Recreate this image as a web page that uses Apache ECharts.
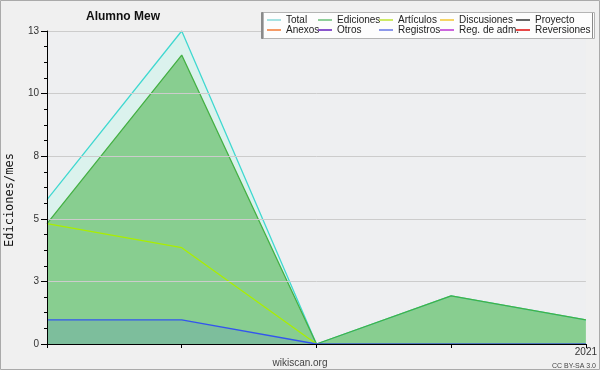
<!DOCTYPE html>
<html><head><meta charset="utf-8">
<script src="https://cdn.jsdelivr.net/npm/echarts@6/dist/echarts.min.js"></script>
<style>html,body{margin:0;padding:0;background:#f0f0f0}#c{width:600px;height:370px}</style>
</head><body><div id="c"></div>
<script>
var categories = ['2020-09','2020-10','2020-11','2020-12','2021-01'];
var xTickLabels = ['', '', '', '', '2021'];
var totalVals = [6, 13, 0, 2, 1];
var edicionesVals = [5, 12, 0, 2, 1];
var articulosVals = [5, 4, 0, 0, 0];
var registrosVals = [1, 1, 0, 0, 0];
var emptyVals = [];
var legendRows = [['Total','Ediciones','Artículos','Discusiones','Proyecto'],['Anexos','Otros','Registros','Reg. de adm.','Reversiones']];
var legendColors = {'Total':'#a6e2e2','Anexos':'#f59a66','Ediciones':'#8fcf9a','Otros':'#8a55cc','Artículos':'#cdea66','Registros':'#8c98ea','Discusiones':'#f5d466','Reg. de adm.':'#cc66dd','Proyecto':'#666666','Reversiones':'#e84848'};
var lineColors = {'Total':'#40d8d0','Ediciones':'#44b044','Artículos':'#aaee00','Registros':'#3355ee','Discusiones':'#ffcc00','Proyecto':'#444444','Anexos':'#ff7733','Otros':'#7733cc','Reg. de adm.':'#cc33dd','Reversiones':'#ee2222'};
var yMax = 13, yStep = 2.6;

var chart = echarts.init(document.getElementById('c'), null, {renderer:'canvas'});
var FONT = 'Liberation Sans';
var legendX = [267, 318, 379, 440, 516];
var legendY = [15, 25];
var legends = [];
legendRows.forEach(function(row, r){
  row.forEach(function(n, i){
    legends.push({
      orient:'horizontal', left: legendX[i], top: legendY[r], padding:0, z:8,
      itemWidth: 14, itemHeight: 2, icon: 'rect', itemGap:0,
      textStyle:{fontFamily:FONT, fontSize:10, color:'#222', padding:[0,0,0,0]},
      selectedMode:false,
      data:[{name:n, icon:'rect', itemStyle:{color:legendColors[n], borderWidth:0, opacity:1}, lineStyle:{color:legendColors[n], width:0, opacity:0}}]
    });
  });
});
function mkSeries(name, vals, fill, fillOpacity){
  var s = {name:name, type:'line', data:vals, symbol:'none', smooth:false,
    lineStyle:{width:1.3, color:lineColors[name]}, itemStyle:{color:lineColors[name]}, z:2, silent:true};
  if (fill) s.areaStyle = {color:fill, opacity:fillOpacity};
  return s;
}
var option = {
  backgroundColor:'#f0f0f0',
  animation:false,
  title:{text:'Alumno Mew', left:86, top:11, padding:0, textStyle:{fontFamily:FONT, fontSize:12, fontWeight:'bold', color:'#111'}},
  legend: legends,
  grid:{left:47, right:11, top:31, bottom:26, show:true, backgroundColor:'#eeeff1', borderWidth:0},
  xAxis:{type:'category', data:categories, boundaryGap:false, z:5,
    axisLine:{lineStyle:{color:'#000', width:1}},
    axisTick:{show:true, length:4, lineStyle:{color:'#000'}},
    axisLabel:{interval:0, margin:3, fontFamily:FONT, fontSize:10, color:'#333', formatter:function(v,i){return xTickLabels[i];}},
    splitLine:{show:false}},
  yAxis:{type:'value', min:0, max:yMax, interval:yStep, z:3,
    axisLine:{show:true, lineStyle:{color:'#000', width:1}},
    axisTick:{show:true, length:6, lineStyle:{color:'#000'}},
    minorTick:{show:true, splitNumber:4, length:3, lineStyle:{color:'#000'}},
    axisLabel:{margin:8, fontFamily:FONT, fontSize:10, color:'#333', formatter:function(v){return String(Math.round(v));}},
    splitLine:{show:true, lineStyle:{color:'#cccccc', width:1}}},
  graphic:[
    {type:'rect', z:7, shape:{x:263.5, y:12.5, width:331, height:26}, style:{fill:'#fdfdfd', stroke:'#b4b4b4', lineWidth:1, shadowColor:'#8a8a8a', shadowOffsetX:-2, shadowOffsetY:0, shadowBlur:0}},
    {type:'text', z:7, x:4, y:247, rotation:Math.PI/2, style:{text:'Ediciones/mes', fontFamily:'DejaVu Sans Mono', fontSize:12, fill:'#111'}},
    {type:'text', z:7, style:{text:'wikiscan.org', x:300, y:363, align:'center', verticalAlign:'middle', fontFamily:FONT, fontSize:10, fill:'#444'}},
    {type:'text', z:7, style:{text:'CC BY-SA 3.0', x:596, y:366, align:'right', verticalAlign:'middle', fontFamily:FONT, fontSize:7, fill:'#444'}},
    {type:'rect', z:10, silent:true, shape:{x:0.5, y:0.5, width:599, height:369}, style:{fill:'none', stroke:'#aaaaaa', lineWidth:1}}
  ],
  series:[
    mkSeries('Total', totalVals, '#a3fbe5', 0.25),
    mkSeries('Ediciones', edicionesVals, '#44b044', 0.55),
    mkSeries('Artículos', articulosVals, null),
    mkSeries('Discusiones', emptyVals, null),
    mkSeries('Proyecto', emptyVals, null),
    mkSeries('Anexos', emptyVals, null),
    mkSeries('Otros', emptyVals, null),
    mkSeries('Registros', registrosVals, '#3355ee', 0.13),
    mkSeries('Reg. de adm.', emptyVals, null),
    mkSeries('Reversiones', emptyVals, null)
  ]
};
chart.setOption(option);
</script></body></html>
